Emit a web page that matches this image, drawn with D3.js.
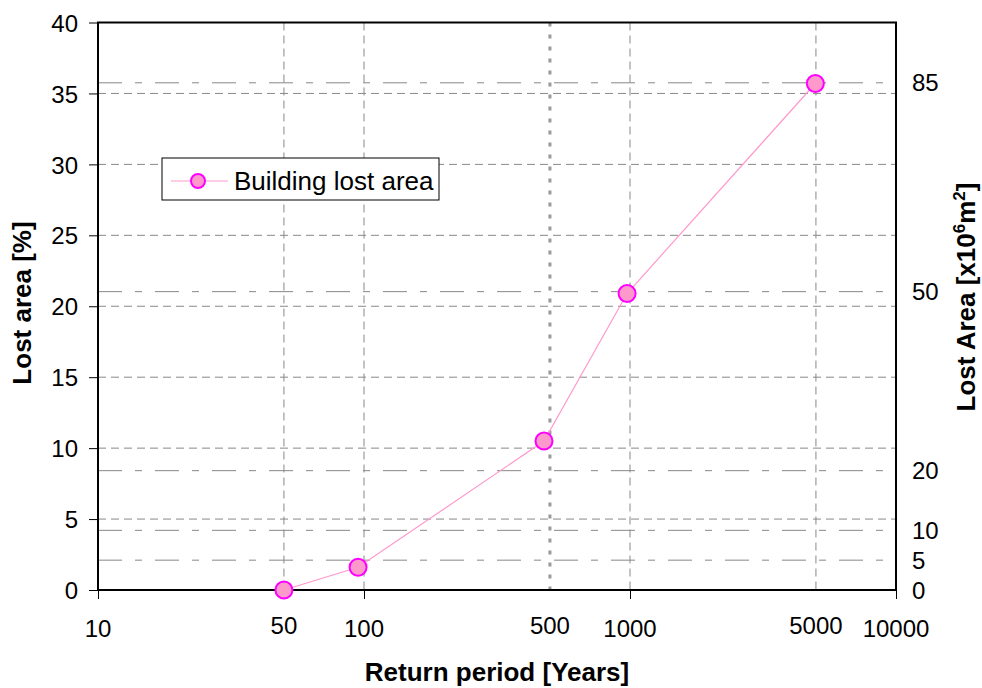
<!DOCTYPE html>
<html>
<head>
<meta charset="utf-8">
<script src="https://cdn.jsdelivr.net/npm/d3@7/dist/d3.min.js"></script>
<style>
  body { margin: 0; background: #fff; }
  text { font-family: Arial, "Liberation Sans", sans-serif; fill: #000; }
</style>
</head>
<body>
<script>
// Data

var returnPeriods = [50, 95, 475, 975, 4975],
    lostPercent = [0, 1.6, 10.5, 20.9, 35.7];

var xTickValues = [10, 100, 1000, 10000],
    xGridValues = [50, 100, 1000, 5000],
    xDottedValues = [500],
    xLabelValues = [10, 50, 100, 500, 1000, 5000, 10000],
    leftTicks = [0, 5, 10, 15, 20, 25, 30, 35, 40],
    rightTicks = [0, 5, 10, 20, 50, 85];

// 85 x10^6 m2 sits on 35.75 % of the left axis
var rightPerPercent = 85 / 35.75;

var width = 982,
    height = 688;

var plotLeft = 98, plotRight = 896, plotTop = 22.5, plotBottom = 590;

var svg = d3.select('body')
  .append('svg')
  .attr('width', width)
  .attr('height', height);

var x = d3.scaleLog()
  .domain([10, 10000])
  .range([plotLeft, plotRight]);

var y = d3.scaleLinear()
  .domain([0, 40])
  .range([plotBottom, plotTop]);

var y2 = d3.scaleLinear()
  .domain([0, 40 * rightPerPercent])
  .range([plotBottom, plotTop]);

var grid = svg.append('g').attr('stroke', '#888').attr('fill', 'none');

// horizontal grid from the left axis (short dashes)
grid.selectAll('line.hl')
  .data(leftTicks.filter(function(d) { return d > 0 && d < 40; }))
  .enter().append('line')
  .attr('x1', plotLeft).attr('x2', plotRight)
  .attr('y1', function(d) { return y(d); })
  .attr('y2', function(d) { return y(d); })
  .attr('stroke-dasharray', '8,5');

// horizontal grid from the right axis (long-short dashes)
grid.selectAll('line.hr')
  .data(rightTicks.filter(function(d) { return d > 0; }))
  .enter().append('line')
  .attr('x1', plotLeft).attr('x2', plotRight)
  .attr('y1', function(d) { return y2(d); })
  .attr('y2', function(d) { return y2(d); })
  .attr('stroke-dasharray', '24,13,7,13');

// vertical grid
grid.selectAll('line.v')
  .data(xGridValues)
  .enter().append('line')
  .attr('x1', function(d) { return x(d); })
  .attr('x2', function(d) { return x(d); })
  .attr('y1', plotTop).attr('y2', plotBottom)
  .attr('stroke-dasharray', '8,5');

grid.selectAll('line.vd')
  .data(xDottedValues)
  .enter().append('line')
  .attr('x1', function(d) { return x(d); })
  .attr('x2', function(d) { return x(d); })
  .attr('y1', plotTop).attr('y2', plotBottom)
  .attr('stroke', '#999')
  .attr('stroke-width', 3)
  .attr('stroke-dasharray', '4,8');

// frame
svg.append('rect')
  .attr('x', plotLeft).attr('y', plotTop)
  .attr('width', plotRight - plotLeft).attr('height', plotBottom - plotTop)
  .attr('fill', 'none')
  .attr('stroke', '#000')
  .attr('stroke-width', 2);

// left axis
var yAxis = svg.append('g')
  .attr('transform', 'translate(' + plotLeft + ',0)')
  .call(d3.axisLeft(y).tickValues(leftTicks).tickSize(9).tickPadding(11));
yAxis.select('.domain').remove();
yAxis.selectAll('line').attr('stroke', '#000');
yAxis.selectAll('text')
  .attr('font-family', null)
  .style('font-size', '24px')
  .attr('dy', '0.36em');

// bottom axis ticks (decades only)
var xAxis = svg.append('g')
  .attr('transform', 'translate(0,' + plotBottom + ')')
  .call(d3.axisBottom(x).tickValues(xTickValues).tickSize(9).tickFormat(''));
xAxis.select('.domain').remove();
xAxis.selectAll('line').attr('stroke', '#000');

svg.selectAll('text.xl')
  .data(xLabelValues)
  .enter().append('text')
  .attr('x', function(d) { return x(d); })
  .attr('y', function(d) { return xTickValues.indexOf(d) >= 0 ? 637 : 634; })
  .attr('text-anchor', 'middle')
  .style('font-size', '24px')
  .text(function(d) { return d; });

// right axis labels (no ticks)
svg.selectAll('text.yr')
  .data(rightTicks)
  .enter().append('text')
  .attr('x', 912)
  .attr('y', function(d) { return y2(d); })
  .attr('dy', '0.36em')
  .style('font-size', '24px')
  .text(function(d) { return d; });

// the series
var points = returnPeriods.map(function(d, i) { return [d, lostPercent[i]]; });

svg.append('path')
  .datum(points)
  .attr('fill', 'none')
  .attr('stroke', '#ff99cc')
  .attr('stroke-width', 1.2)
  .attr('d', d3.line()
    .x(function(d) { return x(d[0]); })
    .y(function(d) { return y(d[1]); }));

svg.selectAll('circle.pt')
  .data(points)
  .enter().append('circle')
  .attr('cx', function(d) { return x(d[0]); })
  .attr('cy', function(d) { return y(d[1]); })
  .attr('r', 8.5)
  .attr('fill', '#ff99cc')
  .attr('stroke', '#ff00ff')
  .attr('stroke-width', 2);

// legend
var legend = svg.append('g');
legend.append('rect')
  .attr('x', 162).attr('y', 158)
  .attr('width', 277).attr('height', 42)
  .attr('fill', '#fff')
  .attr('stroke', '#000')
  .attr('stroke-width', 1);
legend.append('line')
  .attr('x1', 171).attr('x2', 228)
  .attr('y1', 181).attr('y2', 181)
  .attr('stroke', '#ff99cc')
  .attr('stroke-width', 1.2);
legend.append('circle')
  .attr('cx', 198).attr('cy', 181).attr('r', 7)
  .attr('fill', '#ff99cc')
  .attr('stroke', '#ff00ff')
  .attr('stroke-width', 2);
legend.append('text')
  .attr('x', 234).attr('y', 190)
  .style('font-size', '26px')
  .text('Building lost area');

// axis titles
svg.append('text')
  .attr('x', 497).attr('y', 681)
  .attr('text-anchor', 'middle')
  .style('font-size', '26px')
  .style('font-weight', 'bold')
  .text('Return period [Years]');

svg.append('text')
  .attr('transform', 'translate(31,303) rotate(-90)')
  .attr('text-anchor', 'middle')
  .style('font-size', '26px')
  .style('font-weight', 'bold')
  .text('Lost area [%]');

var rt = svg.append('text')
  .attr('transform', 'translate(975,297) rotate(-90)')
  .attr('text-anchor', 'middle')
  .style('font-size', '26px')
  .style('font-weight', 'bold');
rt.append('tspan').text('Lost Area [x10');
rt.append('tspan').attr('dy', -10).style('font-size', '17px').text('6');
rt.append('tspan').attr('dy', 10).text('m');
rt.append('tspan').attr('dy', -10).style('font-size', '17px').text('2');
rt.append('tspan').attr('dy', 10).text(']');
</script>
</body>
</html>
